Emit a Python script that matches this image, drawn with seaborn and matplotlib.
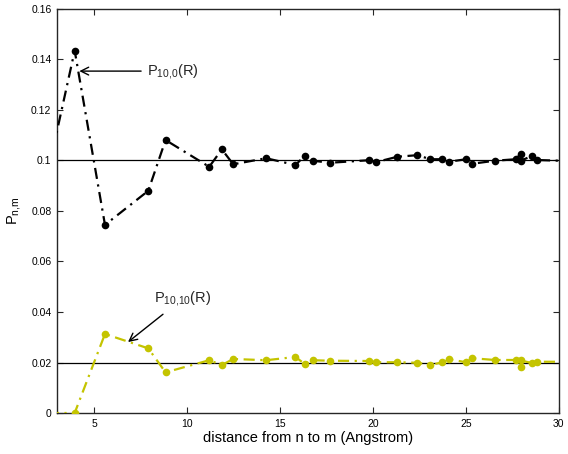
import matplotlib
matplotlib.use('Agg')
from matplotlib import pyplot as plt
from matplotlib.ticker import FormatStrFormatter
import seaborn as sns

# distances (Angstrom)
dist = [2.5, 3.95, 5.58, 7.91, 8.84, 11.19, 11.87, 12.48, 14.25, 15.83, 16.33,
        16.78, 17.68, 19.77, 20.19, 21.32, 22.39, 23.09, 23.74, 24.08, 25.01,
        25.33, 26.55, 27.68, 27.96, 27.95, 28.55, 28.82, 30.5]

# P_{10,0}(R)
p_10_0 = [0.095, 0.1435, 0.0745, 0.088, 0.1081, 0.0975, 0.1044, 0.0985, 0.1009,
          0.0982, 0.1019, 0.0999, 0.0991, 0.1001, 0.0994, 0.1015, 0.1021, 0.1005,
          0.1005, 0.0995, 0.1005, 0.0987, 0.0999, 0.1005, 0.1027, 0.0999, 0.1018,
          0.1002, 0.0998]

# P_{10,10}(R)
p_10_10 = [0.0, 0.0, 0.0313, 0.0256, 0.0161, 0.0209, 0.019, 0.0214, 0.0209,
           0.0222, 0.0194, 0.0209, 0.0207, 0.0206, 0.0201, 0.0201, 0.0199, 0.019,
           0.0201, 0.0213, 0.0201, 0.0217, 0.021, 0.021, 0.0181, 0.0208, 0.0198,
           0.0203, 0.0203]

ref_levels = [0.1, 0.02]

sns.set_style('ticks')
plt.rcParams['font.family'] = ['Liberation Sans', 'DejaVu Sans']
plt.rcParams['mathtext.fontset'] = 'custom'
plt.rcParams['mathtext.rm'] = 'Liberation Sans'
plt.rcParams['mathtext.it'] = 'Liberation Sans:italic'

fig = plt.figure(figsize=(5.68, 4.54), dpi=100)
ax = fig.add_axes([0.1004, 0.0903, 0.8834, 0.8899])

for lev in ref_levels:
    ax.axhline(lev, color='black', lw=0.9, zorder=1)

sns.lineplot(x=dist, y=p_10_0, estimator=None, sort=False, ax=ax,
             color='black', linestyle=(0, (5, 2.5, 1, 2.5)), lw=1.6, marker='o',
             markersize=5.5, markeredgewidth=0, zorder=3)
sns.lineplot(x=dist, y=p_10_10, estimator=None, sort=False, ax=ax,
             color='#c4c400', linestyle=(0, (5, 2.5, 1, 2.5)), lw=1.6, marker='o',
             markersize=5.5, markeredgewidth=0, zorder=3)

ax.set_xlim(3, 30)
ax.set_ylim(0, 0.16)
ax.set_xticks([5, 10, 15, 20, 25, 30])
ax.set_yticks([0, 0.02, 0.04, 0.06, 0.08, 0.1, 0.12, 0.14, 0.16])
ax.yaxis.set_major_formatter(FormatStrFormatter('%g'))
ax.tick_params(direction='in', top=True, right=True, labelsize=7.5, length=4,
               width=0.8, pad=4, labelcolor='black')
for sp in ax.spines.values():
    sp.set_linewidth(1.0)
    sp.set_visible(True)

ax.set_xlabel('distance from n to m (Angstrom)', fontsize=10.5, labelpad=2,
              color='black')
ax.set_ylabel(r'P$_{\mathregular{n{,}m}}$', fontsize=10.5, labelpad=6,
              color='black')

ax.annotate(r'P$_{\mathregular{10{,}0}}$(R)', xy=(4.2, 0.1354), xytext=(7.85, 0.1354),
            fontsize=10.5, va='center',
            arrowprops=dict(arrowstyle='->', color='black', lw=1.0,
                            mutation_scale=14, shrinkA=2, shrinkB=0))
ax.annotate(r'P$_{\mathregular{10{,}10}}$(R)', xy=(6.82, 0.0281), xytext=(8.2, 0.0452),
            fontsize=10.5, va='center',
            arrowprops=dict(arrowstyle='->', color='black', lw=1.0,
                            mutation_scale=14, shrinkA=3, shrinkB=0))

fig.savefig('out.png', dpi=100)
